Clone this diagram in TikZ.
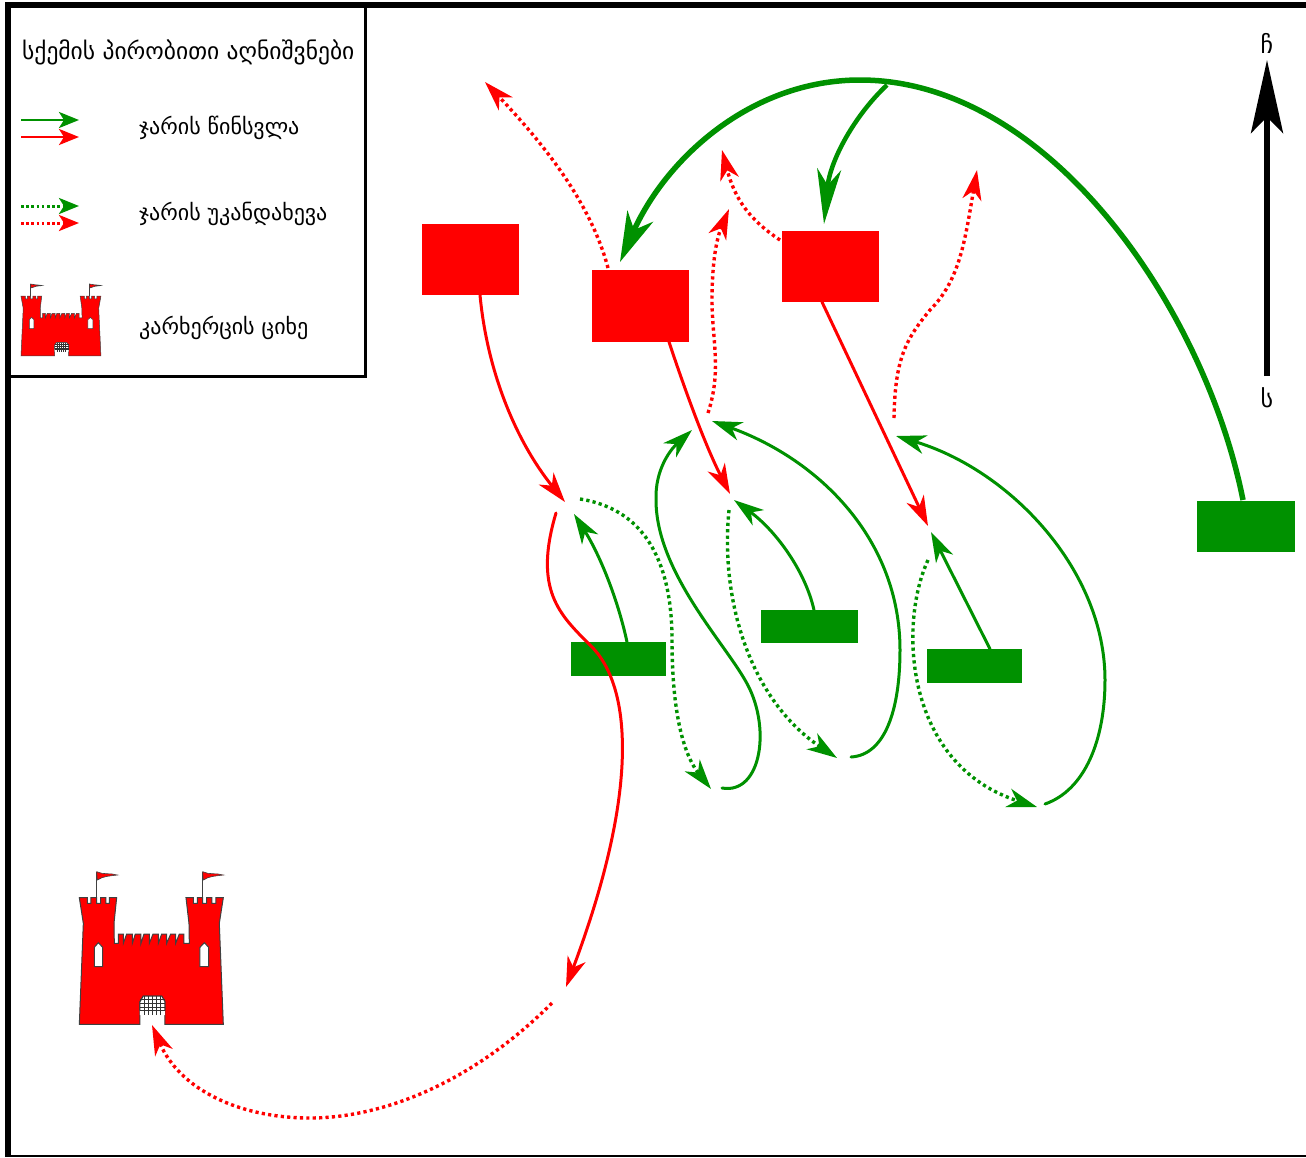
\documentclass[tikz,border=0pt]{standalone}
\usepackage{fontspec}
\setmainfont{DejaVu Sans}
\usetikzlibrary{arrows.meta}
\definecolor{gr}{RGB}{0,145,0}
\definecolor{rd}{RGB}{255,0,0}
\newcommand{\mycastle}[1]{%
  \draw[line width=#1,fill=rd,draw=black!75]
   (58,113) -- (82,113) -- (82,130) -- (93,130) -- (93,113) -- (110,113) -- (110,130) -- (122,130) -- (122,113) -- (138,113) -- (138,130) -- (148,130) -- (148,113) -- (170,113)
   -- (162,190) -- (163,250) -- (175,250)
   \foreach \a/\b in {175/190,200/217,226/243,252/268,279/295,305/320,332/347,358/372}{ -- (\a,222) -- (\b,222) -- (\b,250) }
   -- (388,250) -- (387,190) -- (378,113) -- (400,113) -- (400,130) -- (412,130) -- (412,113) -- (428,113) -- (428,130) -- (440,130) -- (440,113) -- (456,113) -- (456,130) -- (468,130) -- (468,113) -- (490,113)
   -- (478,190) -- (490,493) -- (315,493) -- (315,425) -- (305,408) -- (250,408) -- (240,425) -- (240,493) -- (58,493) -- (70,190) -- cycle;
  \draw[fill=white,draw=black!75,line width=#1] (103,320) -- (103,262) -- (115,248) -- (128,262) -- (128,320) -- cycle;
  \draw[fill=white,draw=black!75,line width=#1] (420,320) -- (420,262) -- (433,248) -- (446,262) -- (446,320) -- cycle;
  \fill[white] (240,465) -- (240,425) -- (250,408) -- (305,408) -- (315,425) -- (315,465) -- cycle;
  \foreach \xx in {252,264,276,288,300}{\draw[black!80,line width=.7pt] (\xx,408) -- (\xx,465);}
  \foreach \yy in {418,430,442,452}{\draw[black!80,line width=.7pt] (240,\yy) -- (315,\yy);}
  \draw[black!80,line width=#1] (240,452) -- (240,425) -- (250,408) -- (305,408) -- (315,425) -- (315,452);
  \draw[black!75,line width=#1] (110,113) -- (110,35);
  \draw[black!75,line width=#1] (428,113) -- (428,35);
  \draw[fill=rd,draw=black!75,line width=.6pt] (110,35) .. controls (130,45) and (150,38) .. (172,45) .. controls (150,48) and (130,48) .. (112,60) -- cycle;
  \draw[fill=rd,draw=black!75,line width=.6pt] (428,35) .. controls (448,45) and (468,38) .. (490,45) .. controls (468,48) and (448,48) .. (430,60) -- cycle;
}
\tikzset{
 x=1pt,y=-1pt,
 redbox/.style={fill=rd,draw=none,inner sep=0pt,minimum width=97pt,minimum height=71.5pt},
 greenbox/.style={fill=gr,draw=none,inner sep=0pt},
 tipS/.style={-{Stealth[length=30pt,width=19pt,inset=9pt]}},
 tipB/.style={-{Stealth[length=50pt,width=28pt,inset=15pt]}},
 adv/.style={tipS,line width=3pt,line cap=round},
 ret/.style={tipS,line width=3.4pt,dash pattern=on 3.2pt off 3.2pt},
 big/.style={line width=5.5pt,draw=gr},
 legtext/.style={anchor=west,inner sep=0pt,font=\fontsize{22}{26}\selectfont},
 legtip/.style={-{Stealth[length=20pt,width=16pt,inset=5pt]}},
}
\begin{document}
\begin{tikzpicture}
\useasboundingbox (0,0) rectangle (1306,1157);
\fill[white] (0,0) rectangle (1306,1157);
% frame
\draw[line width=6pt] (1306,5) -- (8,5) -- (8,1157);
\draw[line width=2.5pt] (8,1156) -- (1306,1156);
\draw[line width=3pt] (365,5) -- (365,376) -- (8,376);
% legend
\node[anchor=west,inner sep=0pt,font=\fontsize{23.5}{26}\selectfont] (legtitle) at (22,52) {სქემის პირობითი აღნიშვნები};
\node[legtext] (leg1) at (139,128) {ჯარის წინსვლა};
\node[legtext] (leg2) at (139,214) {ჯარის უკანდახევა};
\node[legtext] (leg3) at (139,328) {კარხერცის ციხე};
\coordinate (la1) at (21,120); \coordinate (lb1) at (79,120);
\coordinate (la2) at (21,137); \coordinate (lb2) at (79,137);
\coordinate (la3) at (21,206); \coordinate (lb3) at (79,206);
\coordinate (la4) at (21,223); \coordinate (lb4) at (79,223);
\draw[legtip,line width=2.8pt,gr] (la1) -- (lb1);
\draw[legtip,line width=2.8pt,rd] (la2) -- (lb2);
\draw[legtip,line width=3pt,gr,dash pattern=on 2.6pt off 2.6pt] (la3) -- (lb3);
\draw[legtip,line width=3pt,rd,dash pattern=on 2.6pt off 2.6pt] (la4) -- (lb4);
\begin{scope}[shift={(10.27pt,-278.5pt)},x=.185pt,y=-.157pt]
 \mycastle{.5pt}
\end{scope}
\begin{scope}[shift={(60pt,-860pt)},x=.3333pt,y=-.3333pt]
 \mycastle{1pt}
\end{scope}
% compass
\node[inner sep=0pt,font=\fontsize{24}{28}\selectfont] (north) at (1267,43) {ჩ};
\node[inner sep=0pt,font=\fontsize{24}{28}\selectfont] (south) at (1267,398) {ს};
\coordinate (sp) at (1267,376); \coordinate (np) at (1267,60);
\draw[line width=6pt,-{Stealth[length=73pt,width=32pt,inset=16pt]}] (sp) -- (np);
% boxes
\node[redbox] (r1) at (470.5,259.5) {};
\node[redbox] (r2) at (640.5,306) {};
\node[redbox] (r3) at (830.5,266.5) {};
\node[greenbox,minimum width=98pt,minimum height=51pt] (g0) at (1246,526.5) {};
\node[greenbox,minimum width=95pt,minimum height=34pt] (g1) at (618,659) {};
\node[greenbox,minimum width=97pt,minimum height=33pt] (g2) at (809.5,626.5) {};
\node[greenbox,minimum width=95pt,minimum height=34pt] (g3) at (974.5,666) {};
% ends
\coordinate (big1) at (1243,500); \coordinate (bigtop) at (860,80); \coordinate (bigend) at (620,262);
\coordinate (br) at (887,85); \coordinate (brend) at (824,224);
\coordinate (a1) at (480,295); \coordinate (a1e) at (565,502);
\coordinate (a2) at (669,342); \coordinate (a2e) at (730,494);
\coordinate (a3) at (822,302); \coordinate (a3e) at (928,526);
\coordinate (lr) at (556,513); \coordinate (lrm) at (590,645); \coordinate (lre) at (566,987);
\coordinate (d1) at (552,1003); \coordinate (d1m) at (310,1118); \coordinate (d1e) at (152,1025);
\coordinate (d2) at (608,268); \coordinate (d2e) at (485,82);
\coordinate (d3) at (780,240); \coordinate (d3e) at (722,150);
\coordinate (d4) at (708,413); \coordinate (d4m) at (712,300); \coordinate (d4e) at (729,209);
\coordinate (d5) at (894,418); \coordinate (d5m) at (930,310); \coordinate (d5e) at (977,170);
\coordinate (g1a) at (627,642); \coordinate (g1ae) at (574,514);
\coordinate (g1d) at (580,499); \coordinate (g1dm) at (672,640); \coordinate (g1de) at (711,789);
\coordinate (g1b) at (722,788); \coordinate (g1bm) at (745,680); \coordinate (g1bn) at (656,500); \coordinate (g1be) at (692,430);
\coordinate (g2a) at (814,610); \coordinate (g2ae) at (734,500);
\coordinate (g2d) at (729,510); \coordinate (g2de) at (837,758);
\coordinate (g2b) at (851,757); \coordinate (g2bm) at (900,650); \coordinate (g2be) at (712,421);
\coordinate (g3a) at (990,649); \coordinate (g3ae) at (931,532);
\coordinate (g3d) at (928,560); \coordinate (g3de) at (1037,807);
\coordinate (g3b) at (1045,804); \coordinate (g3bm) at (1105,680); \coordinate (g3be) at (896,436);

\draw[adv,rd] (a1) .. controls (487,370) and (515,440) .. (a1e);
\draw[adv,rd] (a2) .. controls (685,390) and (705,445) .. (a2e);
\draw[adv,rd] (a3) -- (a3e);
\draw[adv,gr] (g1a) .. controls (618,600) and (600,555) .. (g1ae);
\draw[ret,gr] (g1d) .. controls (650,510) and (672,570) .. (g1dm) .. controls (672,700) and (680,750) .. (g1de);
\draw[adv,gr] (g1b) .. controls (762,795) and (772,725) .. (g1bm) .. controls (722,640) and (656,570) .. (g1bn) .. controls (655,470) and (670,450) .. (g1be);
\draw[adv,gr] (g2a) .. controls (805,570) and (775,530) .. (g2ae);
\draw[ret,gr] (g2d) .. controls (720,600) and (750,700) .. (g2de);
\draw[adv,gr] (g2b) .. controls (885,755) and (900,710) .. (g2bm) .. controls (900,540) and (820,460) .. (g2be);
\draw[adv,gr] (g3a) -- (g3ae);
\draw[ret,gr] (g3d) .. controls (898,625) and (905,765) .. (g3de);
\draw[adv,gr] (g3b) .. controls (1085,790) and (1105,740) .. (g3bm) .. controls (1105,570) and (1010,470) .. (g3be);
\draw[adv,rd] (lr) .. controls (533,590) and (560,615) .. (lrm) .. controls (632,685) and (640,790) .. (lre);
\draw[ret,rd] (d1) .. controls (470,1085) and (380,1118) .. (d1m) .. controls (240,1118) and (180,1090) .. (d1e);
\draw[ret,rd] (d2) .. controls (590,200) and (540,140) .. (d2e);
\draw[ret,rd] (d3) .. controls (750,220) and (735,200) .. (d3e);
\draw[ret,rd] (d4) .. controls (722,370) and (712,340) .. (d4m) .. controls (712,265) and (716,240) .. (d4e);
\draw[ret,rd] (d5) .. controls (895,360) and (905,340) .. (d5m) .. controls (960,280) and (965,240) .. (d5e);
\draw[big,tipB] (big1) .. controls (1205,310) and (1050,80) .. (bigtop) .. controls (750,80) and (665,160) .. (bigend);
\draw[gr,line width=4.5pt,-{Stealth[length=55pt,width=24pt,inset=16pt]}] (br) .. controls (855,115) and (830,160) .. (brend);
\end{tikzpicture}
\end{document}
